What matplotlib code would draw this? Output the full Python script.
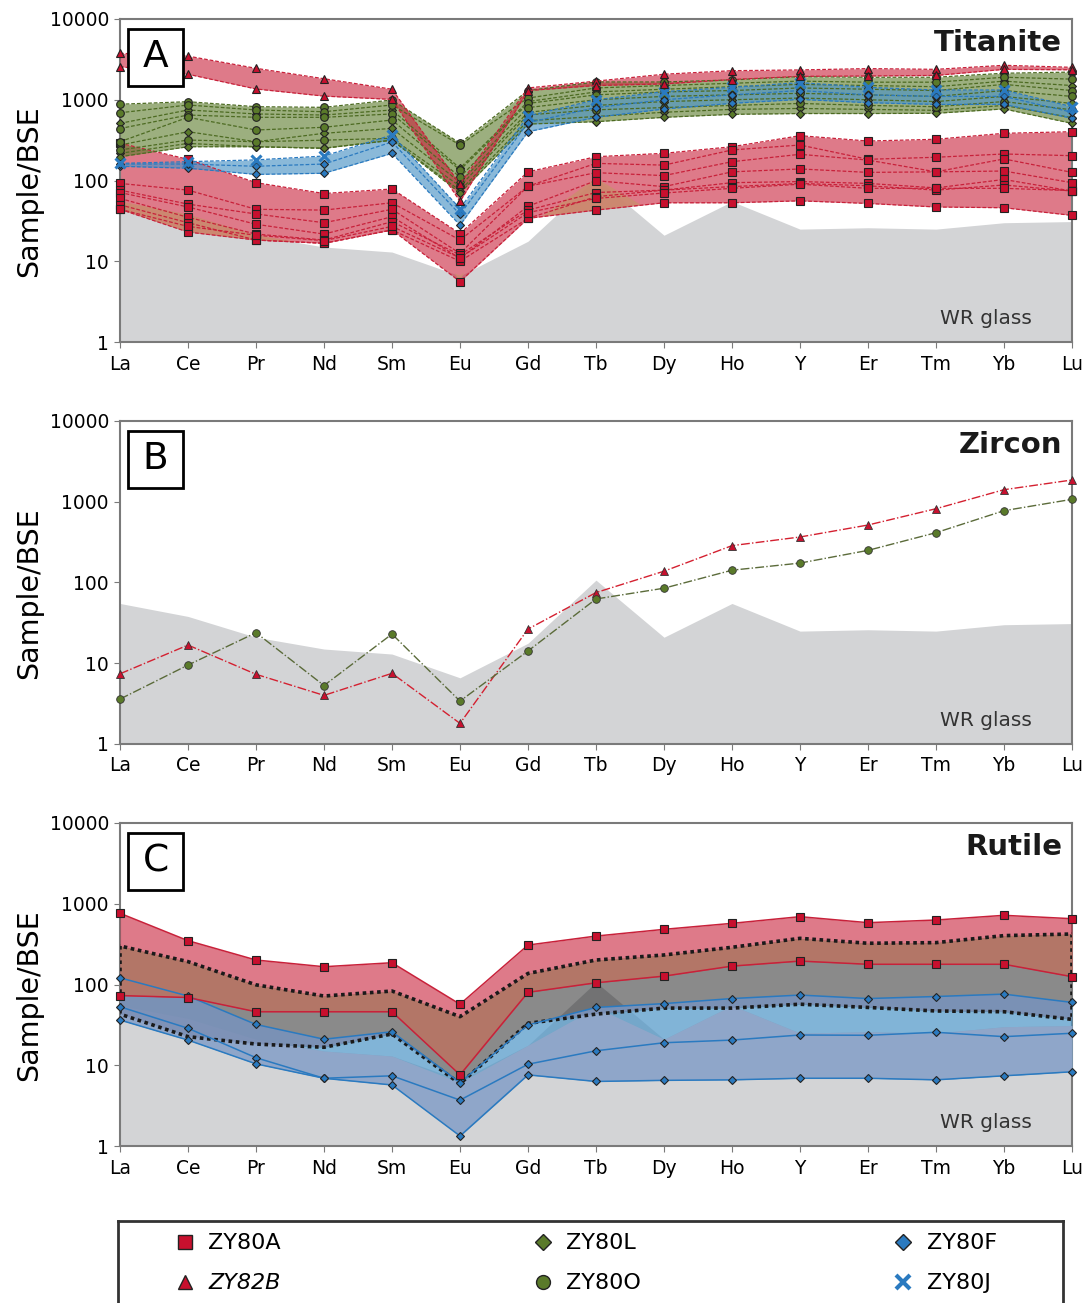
import matplotlib
matplotlib.use("Agg")
import matplotlib.pyplot as plt
from matplotlib.lines import Line2D
from matplotlib.patches import Rectangle
import numpy as np

plt.rcParams["font.family"] = ["DejaVu Sans"]

elements = ["La", "Ce", "Pr", "Nd", "Sm", "Eu", "Gd", "Tb", "Dy", "Ho", "Y", "Er", "Tm", "Yb", "Lu"]

# whole-rock glass, normalised to BSE (grey background in every panel)
wr_glass = [55, 38, 21, 15, 13, 6.6, 17.7, 107, 21, 55, 25, 26, 25, 30, 31]

# --- A: titanite ---
ti_zy80a = [
    [290, 183, 94, 69, 78.5, 22, 128, 197, 217, 262, 359, 308, 324, 384, 402],
    [92, 76, 44, 43, 53, 18.3, 85, 163, 155, 239, 275, 183, 194, 213, 203],
    [76, 51, 38.5, 30, 44, 12.5, 85, 125, 115, 171, 211, 179, 128, 185, 126],
    [71, 47, 28.7, 21.7, 35.6, 10.9, 48, 99.5, 84, 128, 139, 126, 128, 131, 94],
    [60, 35, 21.7, 18.3, 30.9, 12, 43, 71, 76, 94, 97, 92, 81, 103, 74],
    [50, 30, 18.3, 16.7, 24.4, 10, 34, 63, 76, 84, 92, 86, 76, 88, 74],
    [44, 23, 18.3, 16.7, 24.4, 5.6, 34, 43, 53, 53, 56, 52, 47, 46, 37],
    [44, 27, 21, 18, 27, 11, 40, 60, 70, 80, 90, 80, 80, 80, 75],
]
ti_zy82b = [
    [3760, 3470, 2450, 1820, 1350, 90, 1400, 1700, 2070, 2290, 2340, 2430, 2380, 2670, 2520],
    [2570, 2070, 1360, 1110, 1010, 55, 1300, 1500, 1570, 1780, 1950, 1970, 2000, 2380, 2350],
]
ti_zy80l = [
    [510, 747, 667, 647, 747, 142, 950, 1250, 1350, 1450, 1550, 1500, 1450, 1700, 1500],
    [275, 402, 302, 384, 442, 95, 700, 850, 950, 1000, 1050, 1000, 950, 1100, 900],
    [217, 288, 262, 251, 316, 75, 550, 620, 700, 760, 780, 760, 740, 850, 600],
    [197, 262, 262, 251, 316, 70, 500, 535, 606, 660, 675, 675, 680, 770, 510],
]
ti_zy80o = [
    [880, 946, 820, 805, 993, 290, 1300, 1660, 1660, 1760, 1930, 1900, 1900, 2130, 2200],
    [690, 861, 747, 711, 861, 275, 1050, 1400, 1500, 1600, 1700, 1650, 1650, 1900, 1800],
    [440, 647, 606, 606, 667, 135, 900, 1150, 1250, 1300, 1400, 1350, 1300, 1550, 1300],
    [302, 606, 422, 456, 561, 110, 800, 1000, 1100, 1150, 1200, 1150, 1100, 1300, 1100],
    [239, 317, 302, 316, 333, 85, 650, 750, 800, 850, 900, 850, 820, 950, 750],
]
ti_zy80f = [
    [150, 142, 119, 123, 217, 28, 402, 606, 768, 903, 1010, 920, 875, 875, 590],
    [160, 160, 150, 160, 300, 38, 520, 800, 1000, 1150, 1300, 1150, 1100, 1100, 700],
]
ti_zy80j = [
    [163, 171, 180, 201, 366, 45, 630, 1000, 1260, 1425, 1630, 1425, 1320, 1320, 820],
]

# --- B: zircon ---
zr_zy82b = [7.4, 16.8, 7.3, 4.0, 7.5, 1.8, 26.5, 75, 138, 286, 366, 515, 820, 1410, 1860]
zr_zy80o = [3.6, 9.5, 23.9, 5.3, 23, 3.4, 14.2, 62.5, 85, 142, 174, 250, 414, 775, 1072]

# --- C: rutile ---
ru_zy80a = [
    [762, 349, 201, 166, 186, 57, 308, 398, 482, 572, 692, 583, 629, 719, 653],
    [73, 69, 46, 46, 46, 7.6, 80, 105, 127, 169, 195, 178, 178, 178, 125],
]
ru_zy80f = [
    [121, 72, 32, 21, 26, 6.1, 31.5, 52, 58, 67, 74, 67, 71, 76, 60],
    [53, 28.7, 12.4, 6.9, 7.4, 3.7, 10.3, 15.1, 19, 20.5, 23.7, 23.5, 25.6, 22.6, 24.9],
    [36.3, 20.5, 10.4, 6.9, 5.7, 1.33, 7.6, 6.3, 6.5, 6.6, 6.9, 6.9, 6.6, 7.4, 8.3],
]
ru_range_hi = [300, 192, 99, 72, 83, 40, 137, 201, 232, 289, 373, 324, 330, 403, 422]
ru_range_lo = [43, 22.6, 18.3, 16.7, 24.4, 5.9, 33, 43, 51, 51, 57, 52, 47, 46, 37]

legend_labels = ["ZY80A", "ZY82B", "ZY80L", "ZY80O", "ZY80F", "ZY80J"]

RED = "#c8213a"
RED_MK = "#c8102e"
GREEN = "#5a7a2a"
GREEN_LN = "#4d6b22"
BLUE = "#2a7ac0"
BLUE_FILL = "#4c94c6"
GREY = "#d3d4d6"
FRAME = "#7a7a7a"
BROWN = "#b47a69"
ORANGE = "#cd8c70"
LAVENDER = "#92a6c9"
SLATE = "#7d91b6"

x = np.arange(len(elements))
W, H = 1087, 1303


def setup(ax, letter, title):
    ax.fill_between(x, 0.5, wr_glass, color=GREY, lw=0, zorder=0)
    ax.set_yscale("log")
    ax.set_ylim(1, 10000)
    ax.set_xlim(0, len(elements) - 1)
    ax.set_yticks([1, 10, 100, 1000, 10000])
    ax.set_yticklabels(["1", "10", "100", "1000", "10000"])
    ax.minorticks_off()
    ax.set_xticks(x)
    ax.set_xticklabels(elements)
    ax.tick_params(axis="both", labelsize=13.5, length=4, color=FRAME, pad=5)
    ax.tick_params(axis="y", pad=4)
    for s in ax.spines.values():
        s.set_color(FRAME)
        s.set_linewidth(1.5)
    ax.set_ylabel("Sample/BSE", fontsize=20.5)
    ax.yaxis.set_label_coords(-0.081, 0.467)
    ax.add_patch(Rectangle((0.0084, 0.7926), 0.0578, 0.1765, transform=ax.transAxes,
                           fc="white", ec="black", lw=2, zorder=20))
    ax.text(0.0373, 0.881, letter, transform=ax.transAxes, ha="center", va="center",
            fontsize=27, zorder=21)
    ax.text(0.9895, 0.926, title, transform=ax.transAxes, ha="right", va="center",
            fontsize=21, fontweight="bold", color="#1a1a1a", zorder=21)
    ax.text(0.958, 0.074, "WR glass", transform=ax.transAxes, ha="right", va="center",
            fontsize=14.5, color="#333333", zorder=21)


def envelope(rows):
    a = np.array(rows, dtype=float)
    return a.min(axis=0), a.max(axis=0)


def band(ax, rows, fill, alpha, z):
    lo, hi = envelope(rows)
    ax.fill_between(x, lo, hi, color=fill, alpha=alpha, lw=0, zorder=z)


def overlap(ax, lo1, hi1, lo2, hi2, color, alpha, z):
    lo = np.maximum(lo1, lo2)
    hi = np.minimum(hi1, hi2)
    ax.fill_between(x, lo, hi, where=hi > lo, interpolate=True, color=color,
                    alpha=alpha, lw=0, zorder=z)


def lines(ax, rows, color, ls, marker, mfc, ms, z, mew=0.8, mec="#222222", lw=0.9):
    for r in rows:
        ax.plot(x, r, color=color, ls=ls, lw=lw, marker=marker, mfc=mfc, mec=mec,
                ms=ms, mew=mew, zorder=z, clip_on=False)


fig = plt.figure(figsize=(W / 100, H / 100), dpi=100)
left, width, height = 120 / W, 952 / W, 323 / H
axA = fig.add_axes([left, 1 - 342 / H, width, height])
axB = fig.add_axes([left, 1 - 744 / H, width, height])
axC = fig.add_axes([left, 1 - 1146 / H, width, height])
wr = np.array(wr_glass, dtype=float)
floor = np.full_like(wr, 0.5)

# A
setup(axA, "A", "Titanite")
dash = (0, (3, 1.5))
band(axA, ti_zy80a, RED, 0.6, 2)
a_lo, a_hi = envelope(ti_zy80a)
overlap(axA, a_lo, a_hi, floor, wr, ORANGE, 0.9, 2.5)
band(axA, ti_zy80l + ti_zy80o, GREEN, 0.6, 3)
band(axA, ti_zy80f + ti_zy80j, BLUE_FILL, 0.65, 4)
band(axA, ti_zy82b, RED, 0.6, 5)
lines(axA, ti_zy80a, RED, dash, "s", RED_MK, 6, 8)
lines(axA, ti_zy80l, GREEN_LN, dash, "D", GREEN, 4.5, 9)
lines(axA, ti_zy80o, GREEN_LN, dash, "o", GREEN, 5.5, 9)
lines(axA, ti_zy80f, BLUE, dash, "D", BLUE, 4.5, 10)
lines(axA, ti_zy80j, BLUE, dash, "x", BLUE, 7, 10, mew=2.2, mec=BLUE)
lines(axA, ti_zy82b, RED, dash, "^", RED_MK, 6, 11)

# B
setup(axB, "B", "Zircon")
axB.plot(x, zr_zy82b, color="#d42030", ls="-.", lw=1, marker="^", mfc=RED_MK, mec="#333333",
         ms=6, mew=0.6, zorder=6, clip_on=False)
axB.plot(x, zr_zy80o, color="#5b6b3a", ls="-.", lw=1, marker="o", mfc=GREEN, mec="#333333",
         ms=5.5, mew=0.6, zorder=6, clip_on=False)

# C
setup(axC, "C", "Rutile")
rng_lo = np.array(ru_range_lo, dtype=float)
rng_hi = np.array(ru_range_hi, dtype=float)
axC.fill_between(x, rng_lo, rng_hi, color="black", alpha=0.46, lw=0, zorder=2)
band(axC, ru_zy80f, BLUE_FILL, 0.7, 3)
f_lo, f_hi = envelope(ru_zy80f)
overlap(axC, f_lo, f_hi, floor, wr, LAVENDER, 0.92, 3.3)
overlap(axC, f_lo, f_hi, rng_lo, rng_hi, SLATE, 0.92, 3.6)
band(axC, ru_zy80a, RED, 0.6, 4)
r_lo, r_hi = envelope(ru_zy80a)
overlap(axC, r_lo, r_hi, rng_lo, rng_hi, BROWN, 0.92, 4.5)
# dotted outline of the grey range, drawn above the coloured bands
axC.fill_between(x, rng_lo, rng_hi, facecolor="none", edgecolor="#1a1a1a",
                 linestyle=(0, (1.0, 1.0)), linewidth=2.6, zorder=7)
lines(axC, ru_zy80f, BLUE, "-", "D", BLUE, 4.5, 8, lw=1.1)
lines(axC, ru_zy80a, RED, "-", "s", RED_MK, 6, 9, lw=1.1)

# legend box at the bottom (cut by the figure edge)
axL = fig.add_axes([118 / W, -0.01, 945 / W, (1303 - 1221) / H + 0.01])
axL.set_xticks([])
axL.set_yticks([])
for k, s in axL.spines.items():
    s.set_color("#333333")
    s.set_linewidth(2)
axL.spines["bottom"].set_visible(False)
handles = [
    Line2D([], [], ls="none", marker="s", mfc=RED_MK, mec="#222222", ms=10),
    Line2D([], [], ls="none", marker="^", mfc=RED_MK, mec="#222222", ms=10),
    Line2D([], [], ls="none", marker="D", mfc=GREEN, mec="#222222", ms=8),
    Line2D([], [], ls="none", marker="o", mfc=GREEN, mec="#222222", ms=10),
    Line2D([], [], ls="none", marker="D", mfc=BLUE, mec="#222222", ms=8),
    Line2D([], [], ls="none", marker="x", mec=BLUE, mew=3, ms=10),
]
leg = axL.legend(handles, legend_labels, ncol=3, loc="upper left",
                 bbox_to_anchor=(0.059, 0.87), frameon=False, fontsize=16,
                 handlelength=1.0, handletextpad=0.55, columnspacing=11.3,
                 labelspacing=0.9, borderpad=0, borderaxespad=0)
leg.get_texts()[1].set_style("italic")

fig.savefig("out.png", dpi=100)
